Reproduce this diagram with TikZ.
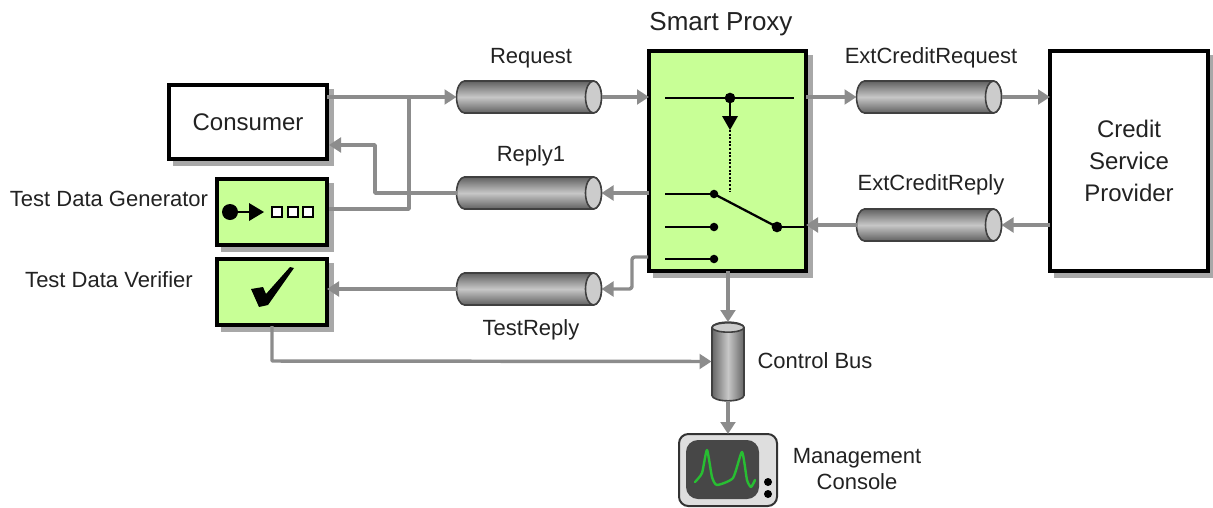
\documentclass[tikz,border=0pt]{standalone}
\usepackage{fontspec}
\setmainfont{Liberation Sans}
\usetikzlibrary{arrows.meta,shadows,calc}
\definecolor{lineg}{HTML}{8C8C8C}
\definecolor{boxgreen}{HTML}{C8FF96}
\definecolor{shadowg}{HTML}{A8A8A8}
\definecolor{txt}{HTML}{222222}
\tikzset{
  x=0.75pt,y=-0.75pt,
  conn/.style={draw=lineg,line width=2.6pt,line join=round},
  arr/.style={conn,-{Triangle[length=9pt,width=11pt]}},
  sz/.style 2 args={minimum width=#1*0.75pt,minimum height=#2*0.75pt},
  box/.style={draw=black,line width=3pt,fill=white,inner sep=0pt,outer sep=0pt,
    copy shadow={shadow xshift=4pt,shadow yshift=-4pt,fill=shadowg,draw=shadowg,line width=2pt}},
  greenbox/.style={box,fill=boxgreen},
  lab/.style={text=txt,inner sep=0pt,font=\fontsize{16.5}{19.5}\selectfont,align=center},
  biglab/.style={lab,font=\fontsize{18}{24}\selectfont},
  chan/.style={inner sep=0pt,outer sep=0pt},
  wire/.style={draw=black,line width=1.7pt},
  blackdot/.style={fill=black,draw=none},
}
\newcommand{\hchan}[3]{%
  \node[chan,sz={145}{34}] (#1) at (#2,#3) {};
  \begin{scope}[shift={(#1.center)}]
    \path[draw=black!75,line width=1.2pt,top color=black!62,bottom color=black!62,middle color=black!22]
      (64.5,-16) -- (-64.5,-16) arc[start angle=90,end angle=270,x radius=6pt,y radius=12pt]
      -- (64.5,16) arc[start angle=-90,end angle=90,x radius=6pt,y radius=12pt] -- cycle;
    \path[draw=black!75,line width=1.2pt,fill=black!20] (64.5,0) ellipse[x radius=6pt,y radius=12pt];
  \end{scope}}
\begin{document}
\begin{tikzpicture}
\path[fill=white] (0,0) rectangle (1213,507);
\useasboundingbox (0,0) rectangle (1213,507);

% boxes
\node[box,sz={158}{74},biglab] (consumer) at (248,122) {Consumer};
\node[greenbox,sz={110}{66}] (gen) at (272,212) {};
\node[greenbox,sz={110}{66}] (ver) at (272,292) {};
\node[greenbox,sz={157}{220}] (proxy) at (727.5,161) {};
\node[box,sz={158}{220},lab,font=\fontsize{18}{24}\selectfont] (credit) at (1129,161) {Credit\\Service\\Provider};

% channels
\hchan{request}{529}{97}
\hchan{reply}{529}{193}
\hchan{testreply}{529}{289}
\hchan{extreq}{929}{97}
\hchan{extrep}{929}{225}

% control bus
\node[chan,sz={33}{79}] (bus) at (728,361.5) {};
\begin{scope}[shift={(bus.center)}]
  \path[draw=black!75,line width=1.2pt,left color=black!60,right color=black!60,middle color=black!22]
    (-16,-34) -- (-16,34) arc[start angle=180,end angle=360,x radius=12pt,y radius=4pt]
    -- (16,-34) arc[start angle=0,end angle=180,x radius=12pt,y radius=4pt] -- cycle;
  \path[draw=black!75,line width=1.2pt,fill=black!20] (0,-34) ellipse[x radius=12pt,y radius=3.5pt];
\end{scope}

% console
\node[draw=black!80,line width=1.5pt,fill=black!13,rounded corners=7pt,inner sep=0pt,outer sep=0pt,sz={98}{72}] (console) at (728,470) {};
\path[fill=black!72,rounded corners=9pt] (686,440) rectangle (759,499);
\path[draw={rgb,255:red,40;green,190;blue,50},line width=1.8pt,line join=round,line cap=round]
  plot[smooth,tension=0.35] coordinates {(695,482) (702,473) (707,450) (712,477) (717,485) (733,478) (742,452) (747,480) (751,487) (755,480)};
\path[blackdot] (768,482) circle[radius=3pt];
\path[blackdot] (768,494) circle[radius=3pt];

% connectors
\coordinate (cin) at (329,145);
\coordinate (genout) at (329,209);
\coordinate (verout) at (272,326);
\coordinate (ptest) at (648,257);
\draw[arr] (consumer.east |- request.west) -- (request.west);
\draw[conn] (genout) -- (409,209) -- (409,97);
\draw[arr] (reply.west) -- (375,193) -- (375,145) -- (cin);
\draw[arr] (request.east) -- (proxy.west |- request.east);
\draw[arr] (proxy.east |- extreq.west) -- (extreq.west);
\draw[arr] (extreq.east) -- (credit.west |- extreq.east);
\draw[arr] (credit.west |- extrep.east) -- (extrep.east);
\draw[arr] (extrep.west) -- (proxy.east |- extrep.west);
\draw[arr] (proxy.west |- reply.east) -- (reply.east);
\draw[arr,rounded corners=2pt] (ptest) -- (632,257) -- (632,289) -- (testreply.east);
\draw[arr] (testreply.west) -- (ver.east |- testreply.west);
\draw[arr] (verout) -- (272,361) -- (bus.west);
\draw[arr] (proxy.south -| bus.north) -- (bus.north);
\draw[arr] (bus.south) -- (console.north);

% inside proxy
\draw[wire] (665,98) -- (794,98);
\path[blackdot] (730,98) circle[radius=4pt];
\draw[wire] (730,98) -- (730,118);
\path[blackdot] (722,116) -- (738,116) -- (730,130) -- cycle;
\draw[black,line width=1.5pt,dash pattern=on 1.5pt off 1.2pt] (730,130) -- (730,192);
\draw[wire] (665,194) -- (714,194);
\draw[wire] (665,227) -- (714,227);
\draw[wire] (665,259) -- (714,259);
\path[blackdot] (714,194) circle[radius=3.2pt];
\path[blackdot] (714,227) circle[radius=3.2pt];
\path[blackdot] (714,259) circle[radius=3.2pt];
\draw[wire] (714,194) -- (777,227);
\draw[wire] (777,227) -- (808,227);
\path[blackdot] (777,227) circle[radius=4pt];

% generator icon
\path[blackdot] (230,212) circle[radius=6pt];
\draw[black,line width=2pt] (230,212) -- (252,212);
\path[blackdot] (249,203) -- (264,212) -- (249,221) -- cycle;
\foreach \sx in {272,288,303}
  \path[draw=black,line width=1.2pt,fill=white] (\sx,207) rectangle ++(10,10);

% check mark
\path[blackdot] (251,289) -- (263,287) -- (266,294) -- (290,267) -- (294,268) -- (268,305) -- (259,307) -- cycle;

% labels
\node[lab,font=\fontsize{19.5}{24}\selectfont] (tproxy) at (721,24) {Smart Proxy};
\node[lab] (t1) at (531,58) {Request};
\node[lab] (t2) at (531,156) {Reply1};
\node[lab] (t3) at (531,330) {TestReply};
\node[lab] (t4) at (931,58) {ExtCreditRequest};
\node[lab] (t5) at (931,185) {ExtCreditReply};
\node[lab] (t6) at (109,199) {Test Data Generator};
\node[lab] (t7) at (109,280) {Test Data Verifier};
\node[lab] (t8) at (815,361) {Control Bus};
\node[lab] (t9) at (857,469) {Management\\Console};
\end{tikzpicture}
\end{document}
